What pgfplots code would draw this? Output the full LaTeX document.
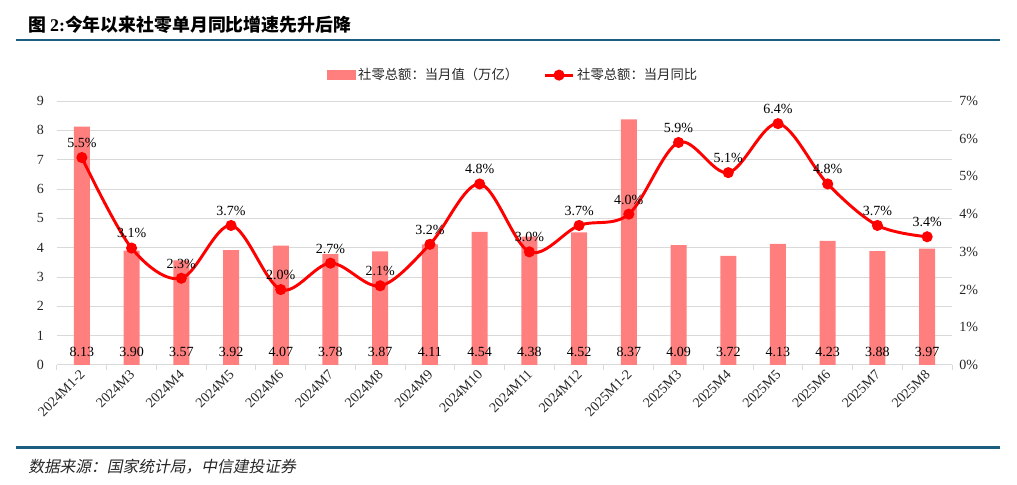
\documentclass[border=0pt]{standalone}
\usepackage{pgfplots}
\pgfplotsset{compat=1.18}
\usepackage{fontspec}
\setmainfont{Liberation Serif}
\newfontfamily\cjk{Noto Sans CJK SC}
\newfontfamily\cjkit[FakeSlant=0.2]{Noto Sans CJK SC}
\definecolor{barpink}{HTML}{FF7F7F}
\definecolor{linered}{HTML}{FF0000}
\definecolor{gridgray}{HTML}{D9D9D9}
\definecolor{rulecol}{HTML}{1B5E80}
\definecolor{txt}{HTML}{262626}
\pgfplotsset{mylineleg/.style={legend image code/.code={\draw[##1, mark repeat=2, mark phase=2] plot coordinates {(0pt,0pt) (10.5pt,0pt) (21pt,0pt)};}}}
\begin{document}
\begin{tikzpicture}
\useasboundingbox (0,0) rectangle (762.75pt,363.75pt);
% title and rules
\node[anchor=west, inner sep=0pt, font=\fontsize{13.4}{15}\selectfont\bfseries] at (21pt,345pt) {\cjk 图 \rmfamily\bfseries 2:\cjk\bfseries 今年以来社零单月同比增速先升后降};
\draw[rulecol, line width=2.2pt] (12pt,333.75pt) -- (750pt,333.75pt);
\draw[rulecol, line width=2.2pt] (12pt,28.1pt) -- (750pt,28.1pt);
\node[anchor=west, inner sep=0pt, text=txt, font=\fontsize{11.8}{13}\selectfont] at (21pt,14pt) {\cjkit 数据来源：国家统计局，中信建投证券};

\begin{axis}[
  at={(42.75pt,90pt)}, anchor=south west,
  scale only axis, width=671.25pt, height=198pt,
  xmin=-0.5, xmax=17.5, ymin=0, ymax=9,
  axis x line*=bottom, axis y line*=left,
  x axis line style={draw=gridgray, line width=0.75pt, -},
  y axis line style={draw=none},
  ytick={0,1,...,9},
  ymajorgrids, grid style={gridgray, line width=0.75pt},
  major y tick style={draw=none},
  xtick={0,...,17},
  xticklabels={2024M1-2,2024M3,2024M4,2024M5,2024M6,2024M7,2024M8,2024M9,2024M10,2024M11,2024M12,2025M1-2,2025M3,2025M4,2025M5,2025M6,2025M7,2025M8},
  major x tick style={draw=none},
  minor xtick={-0.5,0.5,...,17.5},
  minor x tick style={draw=gridgray, line width=0.75pt},
  minor tick length=3.5pt, tick align=outside,
  xticklabel style={rotate=45, anchor=east, font=\fontsize{10.5}{12}\selectfont, text=txt, xshift=3pt, yshift=-1pt},
  yticklabel style={font=\fontsize{10.5}{12}\selectfont, text=txt, xshift=-2pt},
  /pgf/number format/assume math mode=true,
  clip=false,
]
\addplot[ybar, bar width=12pt, fill=barpink, draw=none] coordinates {
(0,8.13) (1,3.90) (2,3.57) (3,3.92) (4,4.07) (5,3.78) (6,3.87) (7,4.11) (8,4.54)
(9,4.38) (10,4.52) (11,8.37) (12,4.09) (13,3.72) (14,4.13) (15,4.23) (16,3.88) (17,3.97)};
\addplot[draw=none, mark=none, point meta=explicit symbolic,
  nodes near coords={\pgfplotspointmeta},
  every node near coord/.append style={anchor=base, inner sep=0pt, font=\fontsize{10.5}{12}\selectfont, text=black}] coordinates {
(0,0.28)[8.13] (1,0.28)[3.90] (2,0.28)[3.57] (3,0.28)[3.92] (4,0.28)[4.07] (5,0.28)[3.78]
(6,0.28)[3.87] (7,0.28)[4.11] (8,0.28)[4.54] (9,0.28)[4.38] (10,0.28)[4.52] (11,0.28)[8.37]
(12,0.28)[4.09] (13,0.28)[3.72] (14,0.28)[4.13] (15,0.28)[4.23] (16,0.28)[3.88] (17,0.28)[3.97]};
\end{axis}

\begin{axis}[
  at={(42.75pt,90pt)}, anchor=south west,
  scale only axis, width=671.25pt, height=198pt,
  xmin=-0.5, xmax=17.5, ymin=0, ymax=7,
  axis x line=none, axis y line*=right,
  y axis line style={draw=none},
  major y tick style={draw=none},
  ytick={0,1,...,7},
  yticklabel={\pgfmathprintnumber{\tick}\%},
  yticklabel style={font=\fontsize{10.5}{12}\selectfont, text=txt, xshift=2pt},
  /pgf/number format/assume math mode=true,
  legend style={at={(0.51,1.098)}, anchor=center, draw=none, fill=none,
    font=\fontsize{10}{12}\selectfont, text=txt, legend columns=2,
    /tikz/every even column/.append style={column sep=17pt}},
  clip=false,
]
\addlegendimage{legend image code/.code={\fill[barpink] (0pt,-3.4pt) rectangle (21pt,3.4pt);}}
\addlegendentry{\cjk 社零总额：当月值（万亿）}
\addplot[linered, line width=2.2pt, smooth, tension=0.55, mark=*, mark size=3pt,
  mark options={solid, fill=linered, draw=linered},
  mylineleg,
  point meta=explicit symbolic,
  nodes near coords={\pgfplotspointmeta},
  every node near coord/.append style={anchor=center, yshift=11pt, font=\fontsize{10.5}{12}\selectfont, text=black, inner sep=0pt}] coordinates {
(0,5.5)[5.5\%] (1,3.1)[3.1\%] (2,2.3)[2.3\%] (3,3.7)[3.7\%] (4,2.0)[2.0\%] (5,2.7)[2.7\%]
(6,2.1)[2.1\%] (7,3.2)[3.2\%] (8,4.8)[4.8\%] (9,3.0)[3.0\%] (10,3.7)[3.7\%] (11,4.0)[4.0\%]
(12,5.9)[5.9\%] (13,5.1)[5.1\%] (14,6.4)[6.4\%] (15,4.8)[4.8\%] (16,3.7)[3.7\%] (17,3.4)[3.4\%]};
\addlegendentry{\cjk 社零总额：当月同比}
\end{axis}
\end{tikzpicture}
\end{document}
